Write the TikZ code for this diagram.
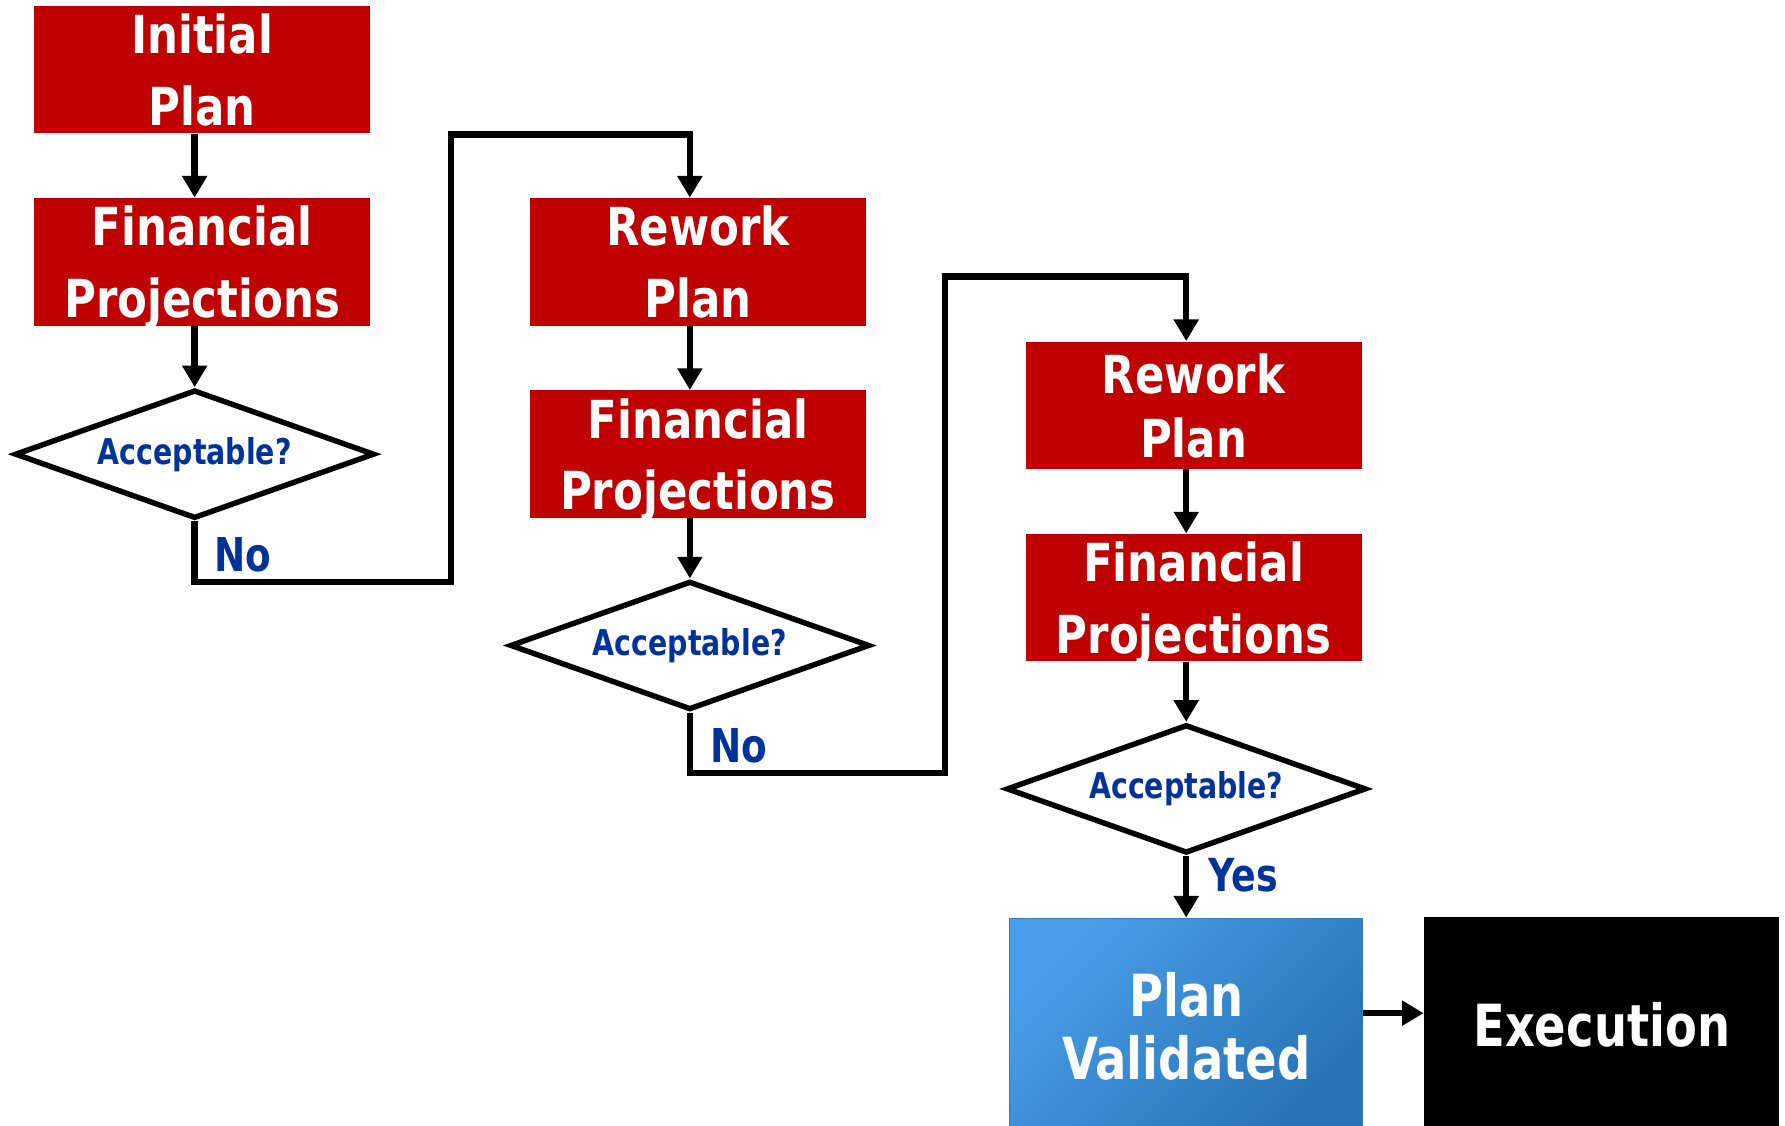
\documentclass[tikz,border=0pt]{standalone}
\usepackage{fontspec}
\newfontfamily\dfont[FakeStretch=0.8]{DejaVu Sans Bold}
\newfontfamily\rfont[FakeStretch=0.83]{DejaVu Sans Bold}
\usetikzlibrary{shapes.geometric,arrows.meta}
\definecolor{boxred}{HTML}{C00000}
\definecolor{labelblue}{HTML}{003399}
\definecolor{vallight}{HTML}{4A9DEA}
\definecolor{valdark}{HTML}{2674B4}
\definecolor{valedge}{HTML}{2E7CC4}

\begin{document}
\begin{tikzpicture}[x=0.5pt,y=-0.5pt,
  stepbox/.style={rectangle, fill=boxred, text=white, minimum width=147.5pt,
    minimum height=56pt, inner sep=0pt, align=center, text depth=0pt,
    font=\rfont\fontsize{23}{31.5}\selectfont},
  decision/.style={diamond, draw=black, line width=2.4pt, fill=white,
    minimum width=158pt, minimum height=56.5pt, inner sep=0pt, aspect=2.8,
    text=labelblue, font=\dfont\fontsize{15.6}{18}\selectfont},
  answer/.style={text=labelblue, inner sep=0pt, font=\dfont\fontsize{20.5}{24}\selectfont},
  link/.style={draw=black, line width=2.8pt},
  arr/.style={link, -{Triangle[width=10.5pt,length=9.5pt]}},
]
\useasboundingbox (0,0) rectangle (1568,989);
\clip (0,0) rectangle (1568,989);

% first pass
\node[stepbox] (ip)  at (177.5,61)  {Initial\\Plan};
\node[stepbox] (fp1) at (177.5,230) {Financial\\Projections};
\node[decision] (d1) at (171,399)   {Acceptable?};

% second pass
\node[stepbox] (rw1) at (613,230) {Rework\\Plan};
\node[stepbox] (fp2) at (613,399) {Financial\\Projections};
\node[decision] (d2) at (606,567) {Acceptable?};

% third pass
\node[stepbox, font=\rfont\fontsize{23}{28}\selectfont] (rw2) at (1048.5,356) {Rework\\Plan};
\node[stepbox] (fp3) at (1048.5,525) {Financial\\Projections};
\node[decision] (d3) at (1042,693) {Acceptable?};

% outcome
\node[anchor=north, draw=valedge, line width=0.6pt,
  top color=vallight, bottom color=valdark, shading angle=45,
  minimum width=155pt, minimum height=95pt, inner sep=0pt, align=center,
  text=white, font=\dfont\fontsize{25.5}{27.5}\selectfont] (pv) at (1042,806) {Plan\\Validated};
\node[anchor=north, fill=black, text=white, minimum width=156pt, minimum height=95pt,
  inner sep=0pt, font=\dfont\fontsize{25.5}{30}\selectfont] (ex) at (1407,805) {Execution};

% answers
\node[answer] (no1) at (213,487) {No};
\node[answer] (no2) at (649,655) {No};
\node[answer, font=\dfont\fontsize{20}{24}\selectfont] (yes) at (1092,769) {Yes};

% connectors
\coordinate (j1) at (396,511);
\coordinate (j2) at (396,118);
\coordinate (j3) at (830,679);
\coordinate (j4) at (830,243);
\coordinate (jv) at (0,890);

\draw[arr] (ip.south -| d1.north) -- (fp1.north -| d1.north);
\draw[arr] (fp1.south -| d1.north) -- (d1.north);
\draw[arr] (d1.south) |- (j1) -- (j2) -| (d2.north |- rw1.north);

\draw[arr] (rw1.south -| d2.north) -- (fp2.north -| d2.north);
\draw[arr] (fp2.south -| d2.north) -- (d2.north);
\draw[arr] (d2.south) |- (j3) -- (j4) -| (d3.north |- rw2.north);

\draw[arr] (rw2.south -| d3.north) -- (fp3.north -| d3.north);
\draw[arr] (fp3.south -| d3.north) -- (d3.north);
\draw[arr] (d3.south) -- (pv.north);
\draw[arr] (pv.east |- jv) -- (ex.west |- jv);
\end{tikzpicture}
\end{document}
